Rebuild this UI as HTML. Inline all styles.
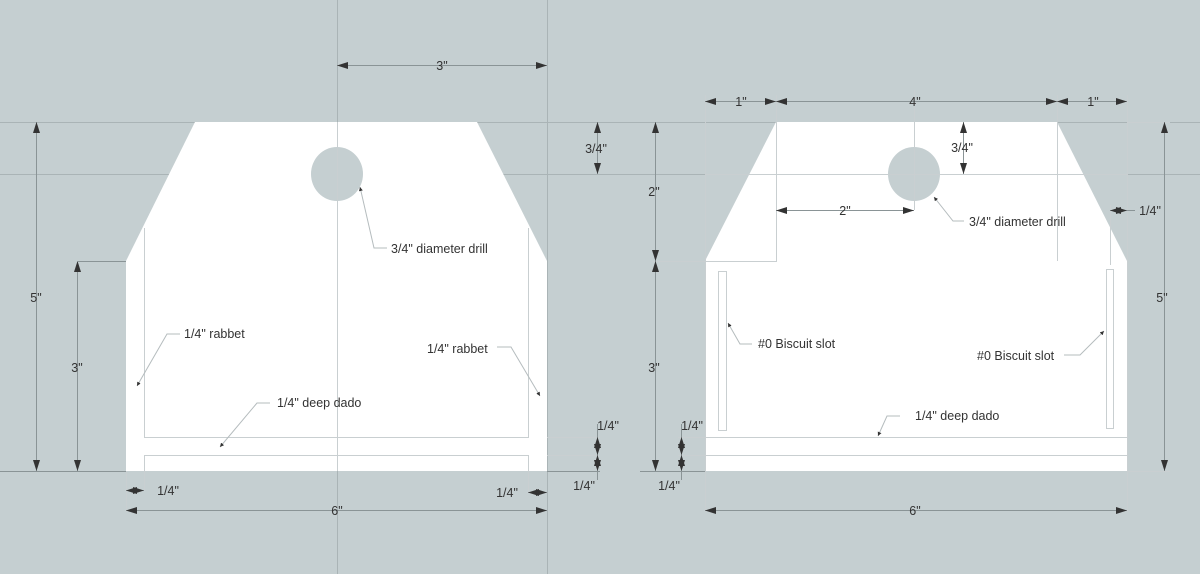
<!DOCTYPE html>
<html><head><meta charset="utf-8"><style>
html,body{margin:0;padding:0;background:#c5cfd1;}
svg{display:block}
text{font-family:"Liberation Sans",sans-serif;font-size:12.5px;fill:#333;}
</style></head><body>
<svg width="1200" height="574" viewBox="0 0 1200 574" xmlns="http://www.w3.org/2000/svg">
<defs>
<marker id="a" viewBox="0 0 11 7" refX="11" refY="3.5" markerWidth="11" markerHeight="7" orient="auto-start-reverse" markerUnits="userSpaceOnUse"><path d="M0,0L11,3.5L0,7z" fill="#333"/></marker>
<marker id="s" viewBox="0 0 4 4" refX="4" refY="2" markerWidth="4" markerHeight="4" orient="auto" markerUnits="userSpaceOnUse"><path d="M0,0L4,2L0,4z" fill="#333"/></marker>
</defs>
<rect width="1200" height="574" fill="#c5cfd1"/>
<g stroke="#aab4b6" stroke-width="1" fill="none">
<line x1="0" y1="122.5" x2="1200" y2="122.5"/>
<line x1="0" y1="174.5" x2="1200" y2="174.5"/>
<line x1="337.5" y1="0" x2="337.5" y2="574"/>
<line x1="547.5" y1="0" x2="547.5" y2="574"/>
</g>
<polygon points="195,122 477,122 547,261 547,471 126,471 126,261" fill="#fff"/>
<ellipse cx="337" cy="174" rx="26" ry="27" fill="#c5cfd1"/>
<g stroke="#c9cfd1" stroke-width="1" fill="none">
<line x1="337.5" y1="122" x2="337.5" y2="471"/>
<polyline points="144.5,228 144.5,437.5 528.5,437.5 528.5,228"/>
<polyline points="144.5,490 144.5,455.5 528.5,455.5 528.5,492"/>
<line x1="126.5" y1="471" x2="126.5" y2="512"/>
<line x1="547" y1="437.5" x2="600" y2="437.5"/>
<line x1="547" y1="455.5" x2="600" y2="455.5"/>
</g>
<polygon points="776,122 1057,122 1127,261 1127,471 705,471 705,261" fill="#fff"/>
<ellipse cx="914" cy="174" rx="26" ry="27" fill="#c5cfd1"/>
<g stroke="#c9cfd1" stroke-width="1" fill="none">
<line x1="914.5" y1="90" x2="914.5" y2="210"/>
<line x1="914" y1="174.5" x2="963" y2="174.5"/>
<line x1="705" y1="174.5" x2="1127" y2="174.5"/>
<polyline points="652,261.5 776.5,261.5 776.5,95"/>
<line x1="1057.5" y1="95" x2="1057.5" y2="261"/>
<line x1="705.5" y1="95" x2="705.5" y2="512"/>
<line x1="1127.5" y1="95" x2="1127.5" y2="512"/>
<line x1="1110.5" y1="205" x2="1110.5" y2="265"/>
<line x1="1127" y1="122.5" x2="1170" y2="122.5"/>
<line x1="1127" y1="471.5" x2="1170" y2="471.5"/>
<line x1="678" y1="437.5" x2="1127" y2="437.5"/>
<line x1="678" y1="455.5" x2="1127" y2="455.5"/>
<rect x="718.5" y="271.5" width="8" height="159"/>
<rect x="1106.5" y="269.5" width="7" height="159"/>
</g>
<g stroke="#8a9496" stroke-width="1" fill="none">
<line x1="337" y1="65.5" x2="547" y2="65.5" marker-start="url(#a)" marker-end="url(#a)"/>
<line x1="36.5" y1="122" x2="36.5" y2="471" marker-start="url(#a)" marker-end="url(#a)"/>
<line x1="77.5" y1="261" x2="77.5" y2="471" marker-start="url(#a)" marker-end="url(#a)"/>
<line x1="77" y1="261.5" x2="126" y2="261.5"/>
<line x1="0" y1="471.5" x2="126" y2="471.5"/>
<line x1="597.5" y1="122" x2="597.5" y2="174" marker-start="url(#a)" marker-end="url(#a)"/>
<line x1="597.5" y1="437" x2="597.5" y2="455" marker-start="url(#a)" marker-end="url(#a)"/>
<line x1="597.5" y1="455" x2="597.5" y2="471" marker-start="url(#a)" marker-end="url(#a)"/>
<line x1="597.5" y1="424" x2="597.5" y2="437"/>
<line x1="597.5" y1="471" x2="597.5" y2="480"/>
<line x1="547" y1="471.5" x2="600" y2="471.5"/>
<line x1="126" y1="490.5" x2="144" y2="490.5" marker-start="url(#a)" marker-end="url(#a)"/>
<line x1="528" y1="492.5" x2="547" y2="492.5" marker-start="url(#a)" marker-end="url(#a)"/>
<line x1="126" y1="510.5" x2="547" y2="510.5" marker-start="url(#a)" marker-end="url(#a)"/>
<line x1="705" y1="101.5" x2="776" y2="101.5" marker-start="url(#a)" marker-end="url(#a)"/>
<line x1="776" y1="101.5" x2="1057" y2="101.5" marker-start="url(#a)" marker-end="url(#a)"/>
<line x1="1057" y1="101.5" x2="1127" y2="101.5" marker-start="url(#a)" marker-end="url(#a)"/>
<line x1="655.5" y1="122" x2="655.5" y2="261" marker-start="url(#a)" marker-end="url(#a)"/>
<line x1="655.5" y1="261" x2="655.5" y2="471" marker-start="url(#a)" marker-end="url(#a)"/>
<line x1="640" y1="471.5" x2="705" y2="471.5"/>
<line x1="1164.5" y1="122" x2="1164.5" y2="471" marker-start="url(#a)" marker-end="url(#a)"/>
<line x1="963.5" y1="122" x2="963.5" y2="174" marker-start="url(#a)" marker-end="url(#a)"/>
<line x1="776" y1="210.5" x2="914" y2="210.5" marker-start="url(#a)" marker-end="url(#a)"/>
<line x1="1110" y1="210.5" x2="1127" y2="210.5" marker-start="url(#a)" marker-end="url(#a)"/>
<line x1="1127" y1="210.5" x2="1135" y2="210.5"/>
<line x1="681.5" y1="437" x2="681.5" y2="455" marker-start="url(#a)" marker-end="url(#a)"/>
<line x1="681.5" y1="455" x2="681.5" y2="471" marker-start="url(#a)" marker-end="url(#a)"/>
<line x1="681.5" y1="424" x2="681.5" y2="437"/>
<line x1="681.5" y1="471" x2="681.5" y2="480"/>
<line x1="705" y1="510.5" x2="1127" y2="510.5" marker-start="url(#a)" marker-end="url(#a)"/>
</g>
<g stroke="#b5bcbe" stroke-width="1" fill="none">
<polyline points="387,248 374,248 360,187" marker-end="url(#s)"/>
<polyline points="180,334 167,334 137,386" marker-end="url(#s)"/>
<polyline points="497,347 511,347 540,396" marker-end="url(#s)"/>
<polyline points="270,403 257,403 220,447" marker-end="url(#s)"/>
<polyline points="964,221 953,221 934,197" marker-end="url(#s)"/>
<polyline points="752,344 740,344 728,323" marker-end="url(#s)"/>
<polyline points="1064,355 1080,355 1104,331" marker-end="url(#s)"/>
<polyline points="900,416 887,416 878,436" marker-end="url(#s)"/>
</g>
<text x="442" y="70" text-anchor="middle">3"</text>
<text x="36" y="302" text-anchor="middle">5"</text>
<text x="77" y="372" text-anchor="middle">3"</text>
<text x="596" y="153" text-anchor="middle">3/4"</text>
<text x="608" y="430" text-anchor="middle">1/4"</text>
<text x="584" y="490" text-anchor="middle">1/4"</text>
<text x="168" y="495" text-anchor="middle">1/4"</text>
<text x="507" y="497" text-anchor="middle">1/4"</text>
<text x="337" y="515" text-anchor="middle">6"</text>
<text x="391" y="253">3/4" diameter drill</text>
<text x="184" y="338">1/4" rabbet</text>
<text x="427" y="353">1/4" rabbet</text>
<text x="277" y="407">1/4" deep dado</text>
<text x="741" y="106" text-anchor="middle">1"</text>
<text x="915" y="106" text-anchor="middle">4"</text>
<text x="1093" y="106" text-anchor="middle">1"</text>
<text x="654" y="196" text-anchor="middle">2"</text>
<text x="654" y="372" text-anchor="middle">3"</text>
<text x="1162" y="302" text-anchor="middle">5"</text>
<text x="962" y="152" text-anchor="middle">3/4"</text>
<text x="845" y="215" text-anchor="middle">2"</text>
<text x="1150" y="215" text-anchor="middle">1/4"</text>
<text x="969" y="226">3/4" diameter drill</text>
<text x="758" y="348">#0 Biscuit slot</text>
<text x="977" y="360">#0 Biscuit slot</text>
<text x="915" y="420">1/4" deep dado</text>
<text x="692" y="430" text-anchor="middle">1/4"</text>
<text x="669" y="490" text-anchor="middle">1/4"</text>
<text x="915" y="515" text-anchor="middle">6"</text>
</svg>
</body></html>
